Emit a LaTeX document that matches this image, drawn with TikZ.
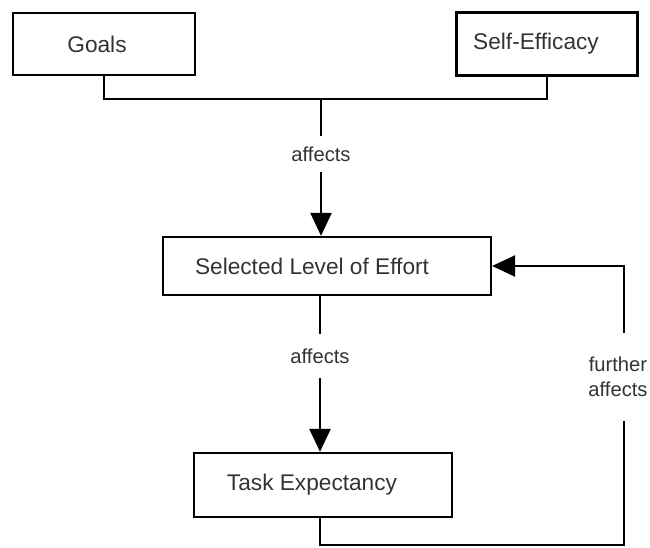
\documentclass[tikz,border=0pt]{standalone}
\usepackage{fontspec}
\setmainfont{Liberation Sans}
\usepackage{tikz}
\usetikzlibrary{arrows.meta}

\begin{document}
\begin{tikzpicture}[x=0.02cm,y=-0.02cm,
		box/.style={draw, line width=1.3pt, fill=white, text=black!80,
			font=\fontsize{12.9}{15}\selectfont, inner sep=0pt,
			execute at end node={\hspace*{#1}}},
		box/.default=0pt,
		lbl/.style={text=black!80, font=\fontsize{11.5}{14.5}\selectfont,
			inner sep=0pt, align=center},
		link/.style={line width=1.3pt},
		tip/.style={-{Triangle[length=0.46cm,width=0.42cm]}}]
	\useasboundingbox (0,0) rectangle (650,548);
	
	% boxes
	\node[box=0.28cm, minimum width=3.64cm, minimum height=1.24cm] (goals) at (104,44) {Goals};
	\node[box=0.44cm, minimum width=3.62cm, minimum height=1.26cm] (selfeff) at (547,44) {Self-Efficacy};
	\node[box=0.6cm, minimum width=6.56cm, minimum height=1.16cm] (effort) at (327,266) {Selected Level of Effort};
	\node[box=0.44cm, minimum width=5.16cm, minimum height=1.28cm] (task) at (323,485) {Task Expectancy};
	
	% labels on the links
	\node[lbl, minimum height=0.7cm] (aff1) at (321,154) {affects};
	\node[lbl, minimum height=0.88cm] (aff2) at (320,356) {affects};
	\node[lbl, minimum height=1.74cm] (aff3) at (618,377) {further\\affects};
	
	% joining line under the two top boxes
	\coordinate (join) at (321,99);
	\draw[link] (goals) -- (goals |- join) -- (selfeff |- join) -- (selfeff);
	\draw[link] (join) -- (aff1);
	\draw[link, tip] (aff1) -- (aff1 |- effort.north);
	
	% effort to task
	\draw[link] (aff2 |- effort.south) -- (aff2);
	\draw[link, tip] (aff2) -- (aff2 |- task.north);
	
	% feedback loop
	\coordinate (corner) at (624,545);
	\draw[link] (aff2 |- task.south) -- (aff2 |- corner) -- (corner) -- (corner |- aff3.south);
	\draw[link, tip] (corner |- aff3.north) |- (effort);
\end{tikzpicture}
\end{document}
